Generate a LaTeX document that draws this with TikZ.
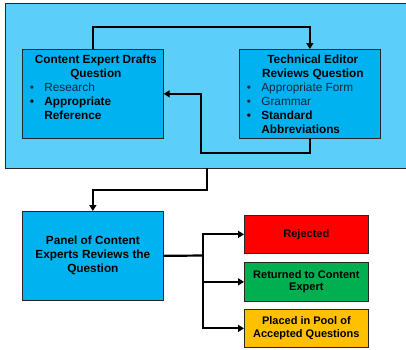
\documentclass[tikz,border=0pt]{standalone}
\usepackage{fontspec}
\setmainfont{Liberation Sans}
\usetikzlibrary{positioning,arrows.meta}
\definecolor{stageblue}{HTML}{5BCEFA}
\definecolor{boxblue}{HTML}{00B2F0}
\definecolor{softtext}{HTML}{15263A}
\definecolor{rejectred}{HTML}{FF0000}
\definecolor{returngreen}{HTML}{00B050}
\definecolor{poolyellow}{HTML}{FFC000}
\newcommand{\boxfont}{\fontsize{11.8}{14}\selectfont}
\newcommand{\outfont}{\fontsize{11}{12.5}\selectfont}

\begin{document}
\begin{tikzpicture}[x = 1pt, y = -1pt,
  box/.style = {draw = black!85, line width = .7pt, inner sep = 0pt, anchor = north west},
  list/.style = {anchor = north, inner sep = 0pt, font = \boxfont},
  flow/.style = {-{Triangle[length = 6pt, width = 7pt]}, line width = 2.2pt},
  link/.style = {line width = 2.2pt}]
\useasboundingbox (0,0) rectangle (406,349);
\node[box, fill = stageblue, minimum width = 410pt, minimum height = 165pt] (stage) at (5,3) {};
\node[box, fill = boxblue, minimum width = 141pt, minimum height = 89pt] (drafts) at (22,49) {};
\node[box, fill = boxblue, minimum width = 141pt, minimum height = 89pt] (edits) at (239,49) {};
\node[list] (draftstext) at ([xshift = 3pt, yshift = -4.5pt]drafts.north) {%
  \begin{tabular}{@{}p{14.5pt}@{}p{117.5pt}@{}}
  \multicolumn{2}{@{}c@{}}{\bfseries Content Expert Drafts}\\
  \multicolumn{2}{@{}c@{}}{\bfseries Question}\\
  \textcolor{softtext}{\textbullet} & \textcolor{softtext}{Research}\\
  \textbf{\textbullet} & \textbf{Appropriate}\\
   & \textbf{Reference}
  \end{tabular}};
\node[list] (editstext) at ([xshift = 3pt, yshift = -4.5pt]edits.north) {%
  \begin{tabular}{@{}p{14.5pt}@{}p{117.5pt}@{}}
  \multicolumn{2}{@{}c@{}}{\bfseries Technical Editor}\\
  \multicolumn{2}{@{}c@{}}{\bfseries Reviews Question}\\
  \textcolor{softtext}{\textbullet} & \textcolor{softtext}{Appropriate Form}\\
  \textcolor{softtext}{\textbullet} & \textcolor{softtext}{Grammar}\\
  \textbf{\textbullet} & \textbf{Standard}\\
   & \textbf{Abbreviations}
  \end{tabular}};
\node[box, fill = boxblue, minimum width = 141pt, minimum height = 89pt, align = center, font = \boxfont\bfseries] (panel) at (22,211) {Panel of Content\\Experts Reviews the\\Question};
\node[box, fill = rejectred, minimum width = 124pt, minimum height = 38pt, align = center, font = \outfont\bfseries] (rejected) at (244,215) {Rejected};
\node[box, fill = returngreen, minimum width = 124pt, minimum height = 39pt, align = center, font = \outfont\bfseries] (returned) at (244,262) {Returned to Content\\Expert};
\node[box, fill = poolyellow, minimum width = 124pt, minimum height = 38pt, align = center, font = \outfont\bfseries] (placed) at (244,309) {Placed in Pool of\\Accepted Questions};
\coordinate (back) at (201,153);
\coordinate (drop) at (207,168);
\coordinate (split) at (203,255.5);
% review loop
\draw[flow] (drafts.north) -- ++(0,-22) -| (edits.north);
\draw[flow] (edits.south) |- (back) |- (drafts.east);
% on to the panel
\draw[flow] (drop) -- ++(0,22) -| (panel.north);
\draw[link] (panel.east) -- (split);
\draw[flow] (split) |- (rejected.west);
\draw[flow] (split) |- (returned.west);
\draw[flow] (split) |- (placed.west);
\end{tikzpicture}
\end{document}
